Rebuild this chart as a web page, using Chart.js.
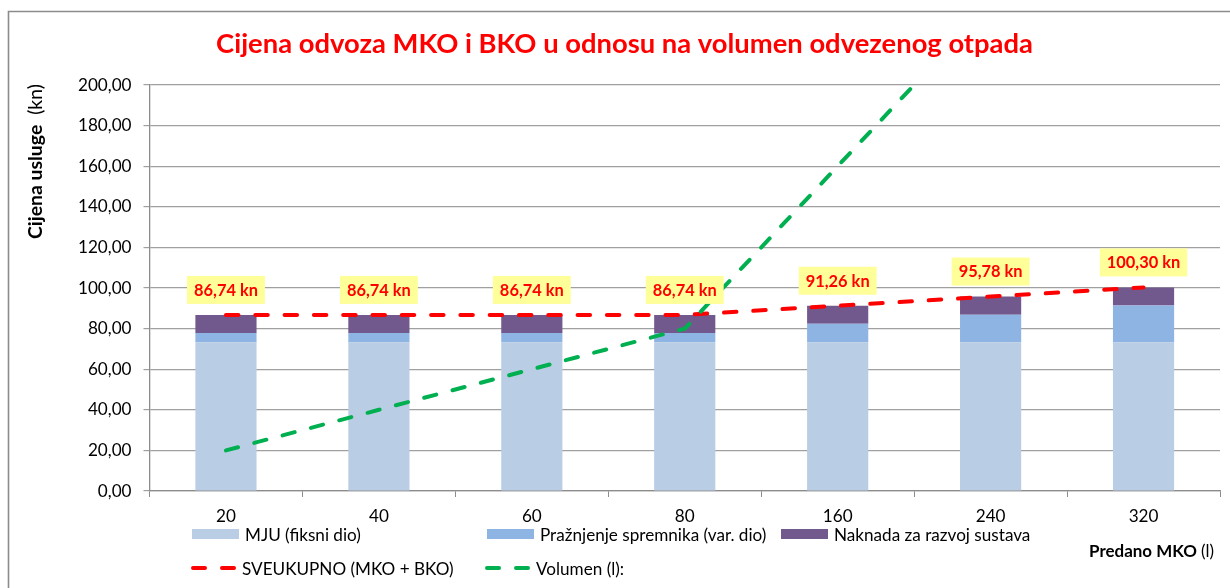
<!DOCTYPE html>
<html><head><meta charset="utf-8">
<script src="https://cdn.jsdelivr.net/npm/chart.js@4.4.1/dist/chart.umd.min.js"></script>
<style>html,body{margin:0;padding:0;background:#fff;overflow:hidden}#wrap{position:absolute;left:0;top:0;width:1230px;height:588px}</style>
</head><body><div id="wrap"><canvas id="c" width="1230" height="588"></canvas></div>
<script>
// ---- data ----
const categories = ['20', '40', '60', '80', '160', '240', '320'];
const mjuFiksni  = [73.30, 73.30, 73.30, 73.30, 73.30, 73.30, 73.30];
const praznjenje = [4.52, 4.52, 4.52, 4.52, 9.04, 13.56, 18.08];
const naknada    = [8.92, 8.92, 8.92, 8.92, 8.92, 8.92, 8.92];
const sveukupno  = [86.74, 86.74, 86.74, 86.74, 91.26, 95.78, 100.30];
const volumen    = [20, 40, 60, 80, 160, 240, 320];
const seriesNames = ['MJU (fiksni dio)', 'Pražnjenje spremnika (var. dio)', 'Naknada za razvoj sustava', 'SVEUKUPNO (MKO + BKO)', 'Volumen (l):'];
const titleText = 'Cijena odvoza MKO i BKO u odnosu na volumen odvezenog otpada';
const yTitleBold = 'Cijena usluge';
const yTitleNormal = '  (kn)';
const xTitleBold = 'Predano MKO ';
const xTitleNormal = '(l)';

// ---- styling ----
const FAMILY = 'Lato, "Open Sans", "Liberation Sans", sans-serif';
const COLORS = ['#B9CDE5', '#8EB4E3', '#72598D', '#FF0000', '#00B050'];
const mctx = document.createElement('canvas').getContext('2d');
function fitSize(text, weight, target) { mctx.font = weight + ' 100px ' + FAMILY; return 100 * target / mctx.measureText(text).width; }
function fitMixed(bold, normal, target) {
  mctx.font = 'bold 100px ' + FAMILY; const a = mctx.measureText(bold).width;
  mctx.font = 'normal 100px ' + FAMILY; const b = mctx.measureText(normal).width;
  return 100 * target / (a + b);
}
const FS = fitSize('MJU (fiksni dio)', 'normal', 116);
const FS_LABEL = fitSize('86,74 kn', 'bold', 64);
const FS_TITLE = fitSize(titleText, 'bold', 817);
const FS_YTITLE = fitMixed(yTitleBold, yTitleNormal, 155);
const FS_XTITLE = fitMixed(xTitleBold, xTitleNormal, 125);
function fmt(v) { return v.toFixed(2).replace('.', ','); }

const decor = {
  id: 'decor',
  beforeDraw(chart) {
    const ctx = chart.ctx;
    ctx.save();
    ctx.fillStyle = '#fff'; ctx.fillRect(0, 0, chart.width, chart.height);
    ctx.strokeStyle = '#8c8c8c'; ctx.lineWidth = 1.6;
    ctx.beginPath(); ctx.moveTo(8.5, 588); ctx.lineTo(8.5, 11.5); ctx.lineTo(1230, 11.5); ctx.stroke();
    ctx.restore();
  },
  afterDatasetsDraw(chart) {
    const ctx = chart.ctx;
    const y = chart.scales.y, x = chart.scales.x;
    ctx.save();
    ctx.font = 'bold ' + FS_LABEL + 'px ' + FAMILY;
    ctx.textAlign = 'center'; ctx.textBaseline = 'middle';
    sveukupno.forEach((v, i) => {
      const txt = fmt(v) + ' kn';
      const w = ctx.measureText(txt).width + 14;
      const cx = x.getPixelForValue(i);
      const bottom = y.getPixelForValue(v) - 11;
      ctx.fillStyle = '#FFFF99';
      ctx.fillRect(cx - w / 2, bottom - 28, w, 28);
      ctx.fillStyle = '#FF0000';
      ctx.fillText(txt, cx, bottom - 13.5);
    });
    ctx.restore();
  },
  afterDraw(chart) {
    const ctx = chart.ctx;
    ctx.save();
    // title
    ctx.font = 'bold ' + FS_TITLE + 'px ' + FAMILY;
    ctx.fillStyle = '#FF0000'; ctx.textAlign = 'center'; ctx.textBaseline = 'alphabetic';
    ctx.fillText(titleText, 624.5, 53);
    // y title
    ctx.save();
    ctx.translate(42, 239); ctx.rotate(-Math.PI / 2);
    ctx.fillStyle = '#000'; ctx.textAlign = 'left'; ctx.textBaseline = 'alphabetic';
    ctx.font = 'bold ' + FS_YTITLE + 'px ' + FAMILY;
    ctx.fillText(yTitleBold, 0, 0);
    const bw = ctx.measureText(yTitleBold).width;
    ctx.font = 'normal ' + FS_YTITLE + 'px ' + FAMILY;
    ctx.fillText(yTitleNormal, bw, 0);
    ctx.restore();
    // x title (right-aligned at 1214)
    ctx.textAlign = 'left'; ctx.textBaseline = 'middle'; ctx.fillStyle = '#000';
    ctx.font = 'bold ' + FS_XTITLE + 'px ' + FAMILY;
    const xw = ctx.measureText(xTitleBold).width;
    ctx.font = 'normal ' + FS_XTITLE + 'px ' + FAMILY;
    const xw2 = ctx.measureText(xTitleNormal).width;
    const x0 = 1214 - xw - xw2;
    ctx.font = 'bold ' + FS_XTITLE + 'px ' + FAMILY;
    ctx.fillText(xTitleBold, x0, 552);
    ctx.font = 'normal ' + FS_XTITLE + 'px ' + FAMILY;
    ctx.fillText(xTitleNormal, x0 + xw, 552);
    // legend
    const items = [
      {x: 192, y: 534, t: 'box'}, {x: 487, y: 534, t: 'box'}, {x: 781, y: 534, t: 'box'},
      {x: 189, y: 568, t: 'dash'}, {x: 483, y: 568, t: 'dash'}
    ];
    ctx.font = 'normal ' + FS + 'px ' + FAMILY;
    items.forEach((it, i) => {
      if (it.t === 'box') {
        ctx.fillStyle = COLORS[i];
        ctx.fillRect(it.x, it.y - 5, 47, 10);
      } else {
        ctx.strokeStyle = COLORS[i]; ctx.lineWidth = 4; ctx.lineCap = 'round';
        ctx.beginPath();
        ctx.moveTo(it.x + 4, it.y); ctx.lineTo(it.x + 16, it.y);
        ctx.moveTo(it.x + 33, it.y); ctx.lineTo(it.x + 45, it.y);
        ctx.stroke();
      }
      ctx.fillStyle = '#000';
      ctx.fillText(seriesNames[i], it.x + 53, it.y + 1);
    });
    ctx.restore();
  }
};

const dash = [12.5, 16.8];
new Chart(document.getElementById('c'), {
  type: 'bar',
  data: {
    labels: categories,
    datasets: [
      {label: seriesNames[0], data: mjuFiksni, backgroundColor: COLORS[0], stack: 'bars', order: 2},
      {label: seriesNames[1], data: praznjenje, backgroundColor: COLORS[1], stack: 'bars', order: 2},
      {label: seriesNames[2], data: naknada, backgroundColor: COLORS[2], stack: 'bars', order: 2},
      {type: 'line', label: seriesNames[3], data: sveukupno, borderColor: COLORS[3], borderWidth: 4, borderDash: dash, borderCapStyle: 'round', pointRadius: 0, tension: 0, fill: false, stack: 'tot', order: 1},
      {type: 'line', label: seriesNames[4], data: volumen, borderColor: COLORS[4], borderWidth: 4, borderDash: dash, borderCapStyle: 'round', pointRadius: 0, tension: 0, fill: false, stack: 'vol', order: 0}
    ]
  },
  options: {
    responsive: false, animation: false, devicePixelRatio: 1,
    layout: {padding: {top: 85, right: 10, left: 0, bottom: 0}},
    datasets: {bar: {categoryPercentage: 0.4, barPercentage: 1.0}},
    plugins: {legend: {display: false}, tooltip: {enabled: false}, title: {display: false}},
    scales: {
      x: {
        stacked: true,
        grid: {drawOnChartArea: false, drawTicks: true, tickLength: 6, color: '#8c8c8c', offset: true},
        border: {color: '#8c8c8c', width: 1.3},
        ticks: {color: '#000', font: {family: FAMILY, size: FS}, padding: 9, maxRotation: 0},
        afterFit(s) { s.height = 97; }
      },
      y: {
        stacked: true, min: 0, max: 200,
        grid: {color: '#a0a0a0', lineWidth: 1.2, tickLength: 6, drawTicks: true},
        border: {color: '#8c8c8c', width: 1.3},
        ticks: {stepSize: 20, color: '#000', font: {family: FAMILY, size: FS}, padding: 12, callback: v => fmt(v)},
        afterFit(s) { s.width = 149.5; }
      }
    }
  },
  plugins: [decor]
});
</script></body></html>
